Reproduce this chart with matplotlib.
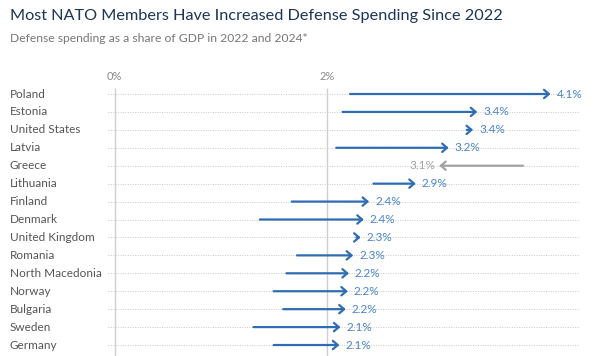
import matplotlib
matplotlib.use("Agg")
import matplotlib.pyplot as plt
from matplotlib.patches import FancyArrowPatch

countries = ["Poland", "Estonia", "United States", "Latvia", "Greece", "Lithuania",
             "Finland", "Denmark", "United Kingdom", "Romania", "North Macedonia",
             "Norway", "Bulgaria", "Sweden", "Germany"]
spend_2022 = [2.22, 2.15, 3.32, 2.09, 3.85, 2.44, 1.67, 1.37, 2.28, 1.72, 1.62, 1.50, 1.59, 1.31, 1.50]
spend_2024 = [4.11, 3.42, 3.38, 3.15, 3.06, 2.84, 2.40, 2.35, 2.32, 2.25, 2.21, 2.20, 2.18, 2.13, 2.12]
labels_2024 = ["4.1%", "3.4%", "3.4%", "3.2%", "3.1%", "2.9%", "2.4%", "2.4%", "2.3%",
               "2.3%", "2.2%", "2.2%", "2.2%", "2.1%", "2.1%"]
x_ticks = [0, 2]
x_tick_labels = ["0%", "2%"]

FONT = "Lato"
BLUE = "#2e6db4"
LBLUE = "#4a84c8"
GREY = "#a3a3a3"

W, H = 600, 356
fig = plt.figure(figsize=(6, 3.56), dpi=100)
ax = fig.add_axes([0, 0, 1, 1])
ax.set_axis_off()

x0px, pxu = 114.5, 106.1
y0px, pyu = 94.0, 17.93
ax.set_xlim(-x0px / pxu, (W - x0px) / pxu)
ax.set_ylim((H - y0px) / pyu, -y0px / pyu)

n = len(countries)
ys = list(range(n))

# gridlines
ax.hlines(ys, (108 - x0px) / pxu, (578 - x0px) / pxu, colors="#c8c8c8",
          linestyles=(0, (1, 1.5)), linewidth=0.7, zorder=1)
for xt, lab in zip(x_ticks, x_tick_labels):
    ax.vlines(xt, (88 - y0px) / pyu, (H - y0px) / pyu, colors="#cfcfcf", linewidth=1.0, zorder=1)
    ax.text(xt, (76 - y0px) / pyu, lab, ha="center", va="center", fontsize=8,
            color="#8a8a8a", family=FONT)

for i, (c, a, b, lab) in enumerate(zip(countries, spend_2022, spend_2024, labels_2024)):
    col = BLUE if b >= a else GREY
    tcol = LBLUE if b >= a else GREY
    arr = FancyArrowPatch((a, i), (b, i), arrowstyle="->,head_length=3.5,head_width=3",
                          color=col, linewidth=1.6, shrinkA=0, shrinkB=0,
                          mutation_scale=1, zorder=3)
    ax.add_patch(arr)
    if b >= a:
        ax.text(b + 6 / pxu, i, lab, ha="left", va="center", fontsize=8.5,
                color=tcol, family=FONT)
    else:
        ax.text(b - 4 / pxu, i, lab, ha="right", va="center", fontsize=8.5,
                color=tcol, family=FONT)
    ax.text(-x0px / pxu + 10 / pxu, i, c, ha="left", va="center", fontsize=8.5,
            color="#555555", family=FONT)

fig.text(10 / W, 1 - 16 / H, "Most NATO Members Have Increased Defense Spending Since 2022",
         ha="left", va="center", fontsize=11.7, color="#1c3557", family=FONT)
fig.text(10 / W, 1 - 39 / H, "Defense spending as a share of GDP in 2022 and 2024*",
         ha="left", va="center", fontsize=8.7, color="#777777", family=FONT)

fig.savefig("out.png", dpi=100)
